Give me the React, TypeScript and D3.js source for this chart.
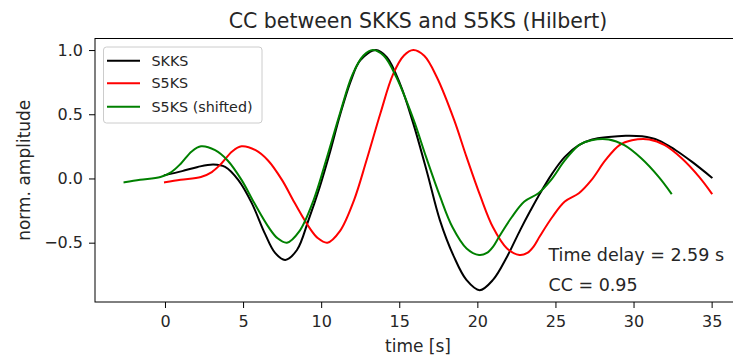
import React, { useEffect, useRef } from "react";
import * as d3 from "d3";

const TITLE = "CC between SKKS and S5KS (Hilbert)";
const X_LABEL = "time [s]";
const Y_LABEL = "norm. amplitude";
const SERIES_NAMES = ["SKKS", "S5KS", "S5KS (shifted)"];
const ANNOTATIONS = ["Time delay = 2.59 s", "CC = 0.95"];

const xTicks = [0, 5, 10, 15, 20, 25, 30, 35];
const yTicks = [-0.5, 0, 0.5, 1.0];

// SKKS (black)
const skksTime = [0, 1.1, 2.1, 3.1, 3.85, 4.7, 5.55, 6.4, 7.05, 7.7, 8.45, 9.2, 9.9, 10.6, 11.2, 11.9, 12.5, 13.5, 14.2, 15.05, 15.9, 16.8, 17.6, 18.5, 19.3, 20.15, 21.0, 21.9, 22.75, 23.4, 23.9, 24.8, 25.6, 26.5, 27.35, 28.4, 29.5, 30.55, 31.6, 32.7, 33.75, 35.0];
const skksValue = [0.026, 0.057, 0.09, 0.109, 0.09, -0.013, -0.19, -0.43, -0.58, -0.634, -0.557, -0.32, -0.07, 0.22, 0.49, 0.76, 0.92, 1.0, 0.944, 0.737, 0.427, 0.039, -0.324, -0.609, -0.79, -0.87, -0.79, -0.609, -0.4, -0.25, -0.14, 0.04, 0.168, 0.259, 0.303, 0.323, 0.333, 0.328, 0.297, 0.22, 0.129, 0.008];

// S5KS (red)
const s5ksTime = [0, 1.0, 2.3, 3.0, 3.6, 4.3, 4.9, 5.8, 6.6, 7.5, 8.3, 9.2, 9.8, 10.4, 11.2, 12.1, 12.9, 13.8, 14.6, 15.3, 15.9, 16.6, 17.4, 18.5, 19.3, 20.2, 21.0, 21.9, 22.7, 23.2, 23.6, 24.0, 24.8, 25.6, 26.5, 27.3, 28.2, 29.1, 29.9, 31.0, 32.0, 33.1, 34.2, 35.0];
const s5ksValue = [-0.03, -0.01, 0.012, 0.05, 0.115, 0.21, 0.25, 0.22, 0.14, -0.013, -0.19, -0.375, -0.466, -0.5, -0.41, -0.17, 0.14, 0.51, 0.81, 0.957, 1.0, 0.955, 0.79, 0.46, 0.17, -0.14, -0.38, -0.545, -0.596, -0.58, -0.53, -0.45, -0.3, -0.18, -0.115, -0.013, 0.142, 0.26, 0.297, 0.303, 0.259, 0.155, 0.012, -0.116];

// S5KS shifted (green)
const shiftedTime = [-2.59, -1.59, -0.29, 0.41, 1.01, 1.71, 2.31, 3.21, 4.01, 4.91, 5.71, 6.61, 7.21, 7.81, 8.61, 9.51, 10.31, 11.21, 12.01, 12.71, 13.31, 14.01, 14.81, 15.91, 16.71, 17.61, 18.41, 19.31, 20.11, 20.61, 21.01, 21.41, 22.21, 23.01, 23.91, 24.71, 25.61, 26.51, 27.31, 28.41, 29.41, 30.51, 31.61, 32.41];
const shiftedValue = [-0.03, -0.01, 0.012, 0.05, 0.115, 0.21, 0.25, 0.22, 0.14, -0.013, -0.19, -0.375, -0.466, -0.5, -0.41, -0.17, 0.14, 0.51, 0.81, 0.957, 1.0, 0.955, 0.79, 0.46, 0.17, -0.14, -0.38, -0.545, -0.596, -0.58, -0.53, -0.45, -0.3, -0.18, -0.115, -0.013, 0.142, 0.26, 0.297, 0.303, 0.259, 0.155, 0.012, -0.116];

const COLORS = ["#000000", "#ff0000", "#008000"];
const FONT = "DejaVu Sans, sans-serif";

const W = 733;
const H = 360;
const plot = { left: 95, right: 741, top: 38.5, bottom: 302 };

export default function App() {
  const xAxisRef = useRef<SVGGElement>(null);
  const yAxisRef = useRef<SVGGElement>(null);

  const x = d3.scaleLinear().domain([-4.48, 36.88]).range([plot.left, plot.right]);
  const y = d3.scaleLinear().domain([-0.962, 1.09]).range([plot.bottom, plot.top]);

  const series = [
    { t: skksTime, v: skksValue },
    { t: s5ksTime, v: s5ksValue },
    { t: shiftedTime, v: shiftedValue },
  ];

  const line = d3
    .line<[number, number]>()
    .x((d) => x(d[0]))
    .y((d) => y(d[1]))
    .curve(d3.curveCatmullRom.alpha(0.5));

  useEffect(() => {
    if (xAxisRef.current) {
      const g = d3.select(xAxisRef.current);
      g.call(
        d3.axisBottom(x).tickValues(xTicks).tickFormat(d3.format("d")).tickSize(6).tickSizeOuter(0).tickPadding(8)
      );
      g.select(".domain").remove();
      g.selectAll("text").attr("font-family", FONT).attr("font-size", 16).attr("fill", "#262626");
      g.selectAll("line").attr("stroke", "#000").attr("stroke-width", 1);
    }
    if (yAxisRef.current) {
      const g = d3.select(yAxisRef.current);
      g.call(
        d3.axisLeft(y).tickValues(yTicks).tickFormat(d3.format(".1f")).tickSize(6).tickSizeOuter(0).tickPadding(6)
      );
      g.select(".domain").remove();
      g.selectAll("text").attr("font-family", FONT).attr("font-size", 16).attr("fill", "#262626");
      g.selectAll("line").attr("stroke", "#000").attr("stroke-width", 1);
    }
  });

  const legend = { x: 103.5, y: 47, w: 158.5, h: 76 };
  const legendRows = [60.7, 83.3, 106.7];

  return (
    <div style={{ position: "fixed", left: 0, top: 0 }}>
      <svg width={W} height={H} style={{ display: "block", background: "#fff" }}>
        <defs>
          <clipPath id="plotclip">
            <rect x={plot.left} y={plot.top} width={plot.right - plot.left} height={plot.bottom - plot.top} />
          </clipPath>
        </defs>
        <text x={(plot.left + plot.right) / 2} y={28} textAnchor="middle" fontFamily={FONT} fontSize={20.5} fill="#262626">
          {TITLE}
        </text>
        <g clipPath="url(#plotclip)">
          {series.map((s, i) => (
            <path
              key={i}
              d={line(s.t.map((t, j) => [t, s.v[j]] as [number, number])) || ""}
              fill="none"
              stroke={COLORS[i]}
              strokeWidth={2}
              strokeLinejoin="round"
              strokeLinecap="square"
            />
          ))}
        </g>
        <rect
          x={plot.left}
          y={plot.top}
          width={plot.right - plot.left}
          height={plot.bottom - plot.top}
          fill="none"
          stroke="#000"
          strokeWidth={1}
        />
        <g ref={xAxisRef} transform={`translate(0,${plot.bottom})`} />
        <g ref={yAxisRef} transform={`translate(${plot.left},0)`} />
        <text x={(plot.left + plot.right) / 2 - 0} y={352} textAnchor="middle" fontFamily={FONT} fontSize={17} fill="#262626">
          {X_LABEL}
        </text>
        <text
          transform={`translate(30,${(plot.top + plot.bottom) / 2}) rotate(-90)`}
          textAnchor="middle"
          fontFamily={FONT}
          fontSize={17}
          fill="#262626"
        >
          {Y_LABEL}
        </text>
        <text x={x(24.55)} y={y(-0.645)} fontFamily={FONT} fontSize={17.5} fill="#262626">
          {ANNOTATIONS[0]}
        </text>
        <text x={x(24.55)} y={y(-0.88)} fontFamily={FONT} fontSize={17.5} fill="#262626">
          {ANNOTATIONS[1]}
        </text>
        <g>
          <rect x={legend.x} y={legend.y} width={legend.w} height={legend.h} rx={3} fill="#fff" fillOpacity={0.8} stroke="#cccccc" strokeWidth={1} />
          {SERIES_NAMES.map((name, i) => (
            <g key={name}>
              <line x1={107} x2={140} y1={legendRows[i]} y2={legendRows[i]} stroke={COLORS[i]} strokeWidth={2} />
              <text x={151.5} y={legendRows[i]} dy="0.35em" fontFamily={FONT} fontSize={14.3} fill="#262626">
                {name}
              </text>
            </g>
          ))}
        </g>
      </svg>
    </div>
  );
}
